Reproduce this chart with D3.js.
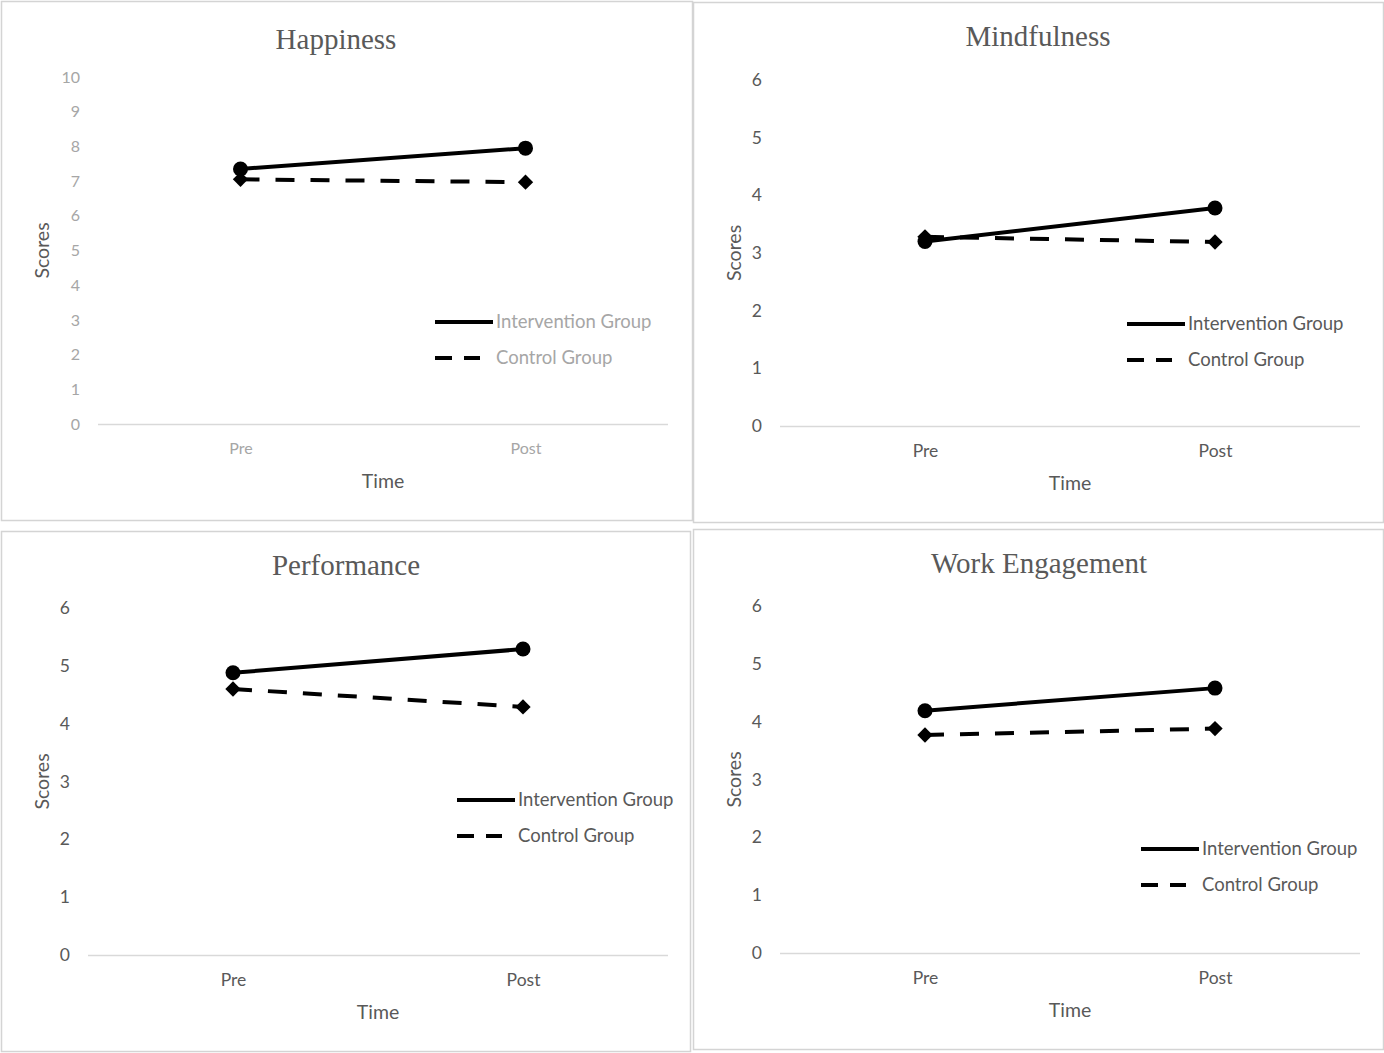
<!DOCTYPE html>
<html lang="en">
<head>
    <meta charset="UTF-8">
    <title>Scores by group</title>
    <style>
        body{
            margin: 0;
            background-color: #fff;
        }
        .title{
            font-family: "Liberation Serif", serif;
            font-size: 29px;
            fill: #595959;
        }
        .tickText, .axisLabel, .legendText{
            font-family: Lato, "Open Sans", sans-serif;
            fill: #595959;
        }
    </style>
</head>
<body>
    <div id="chart"></div>
</body>
<script src="https://d3js.org/d3.v7.min.js"></script>
<script>

// data
let timePoints = ["Pre", "Post"]
let panelTitles = ["Happiness", "Mindfulness", "Performance", "Work Engagement"]
let seriesNames = ["Intervention Group", "Control Group"]
let interventionScores = [[7.35, 7.95], [3.2, 3.78], [4.88, 5.29], [4.19, 4.58]]
let controlScores = [[7.05, 6.97], [3.28, 3.19], [4.6, 4.29], [3.77, 3.88]]
let yMaxValues = [10, 6, 6, 6]

// where each panel sits on the page
let layout = [
    {fx: 1, fy: 1, fw: 691, fh: 519, left: 98, right: 668, top: 77, bottom: 424, titleX: 336, titleY: 49, legY: 322, legX: 435, light: true},
    {fx: 693, fy: 2, fw: 690, fh: 520, left: 780, right: 1360, top: 80, bottom: 426, titleX: 1038, titleY: 46, legY: 324, legX: 1127, light: false},
    {fx: 1, fy: 531, fw: 689, fh: 520, left: 88, right: 668, top: 608, bottom: 955, titleX: 346, titleY: 575, legY: 800, legX: 457, light: false},
    {fx: 693, fy: 529, fw: 690, fh: 520, left: 780, right: 1360, top: 606, bottom: 953, titleX: 1039, titleY: 573, legY: 849, legX: 1141, light: false}
]

let svg = d3.select("#chart")
    .append("svg")
    .attr("width", 1384)
    .attr("height", 1053)

panelTitles.forEach((title, i) => {
    let L = layout[i]
    let g = svg.append("g")
    let textColor = L.light ? "#a6a6a6" : "#595959"
    let tickFont = L.light ? "16px" : "17.5px"

    g.append("rect")
        .attr("x", L.fx + 0.5)
        .attr("y", L.fy + 0.5)
        .attr("width", L.fw)
        .attr("height", L.fh)
        .style("fill", "none")
        .style("stroke", "#d4d4d4")
        .style("stroke-width", 1.5)

    g.append("text")
        .attr("class", "title")
        .attr("x", L.titleX)
        .attr("y", L.titleY)
        .attr("text-anchor", "middle")
        .text(title)

    let xScale = d3.scalePoint()
        .domain(timePoints)
        .range([L.left, L.right])
        .padding(0.5)

    let yScale = d3.scaleLinear()
        .domain([0, yMaxValues[i]])
        .range([L.bottom, L.top])

    // y axis: labels only
    let yAxis = g.append("g")
        .attr("transform", `translate(${L.left},0)`)
        .call(d3.axisLeft(yScale).ticks(yMaxValues[i]).tickSize(0).tickPadding(18))
    yAxis.select(".domain").remove()
    yAxis.selectAll("text")
        .attr("class", "tickText")
        .style("font-size", tickFont)
        .style("fill", textColor)

    // x axis: baseline plus category labels
    let xAxis = g.append("g")
        .attr("transform", `translate(0,${L.bottom})`)
        .call(d3.axisBottom(xScale).tickSize(0).tickPadding(19))
    xAxis.select(".domain")
        .attr("d", `M${L.left},0.5H${L.right}`)
        .style("stroke", "#d9d9d9")
        .style("stroke-width", 1.5)
    xAxis.selectAll("text")
        .attr("class", "tickText")
        .style("font-size", tickFont)
        .style("fill", textColor)

    g.append("text")
        .attr("class", "axisLabel")
        .attr("x", (L.left + L.right) / 2)
        .attr("y", L.bottom + 64)
        .attr("text-anchor", "middle")
        .style("font-size", "19.5px")
        .text("Time")

    g.append("text")
        .attr("class", "axisLabel")
        .attr("transform", `translate(${L.fx + 48},${(L.top + L.bottom) / 2}) rotate(-90)`)
        .attr("text-anchor", "middle")
        .style("font-size", "19.5px")
        .text("Scores")

    let line = d3.line()
        .x((d, j) => xScale(timePoints[j]))
        .y(d => yScale(d))

    // control group: dashed with diamonds
    g.append("path")
        .attr("d", line(controlScores[i]))
        .style("fill", "none")
        .style("stroke", "#000")
        .style("stroke-width", 4)
        .style("stroke-dasharray", "19 16")

    g.selectAll(".diamond")
        .data(controlScores[i])
        .join("path")
        .attr("class", "diamond")
        .attr("d", d3.symbol(d3.symbolDiamond2, 150))
        .attr("transform", (d, j) => `translate(${xScale(timePoints[j])},${yScale(d)})`)
        .style("fill", "#000")

    // intervention group: solid with circles
    g.append("path")
        .attr("d", line(interventionScores[i]))
        .style("fill", "none")
        .style("stroke", "#000")
        .style("stroke-width", 4)

    g.selectAll(".dot")
        .data(interventionScores[i])
        .join("circle")
        .attr("class", "dot")
        .attr("cx", (d, j) => xScale(timePoints[j]))
        .attr("cy", d => yScale(d))
        .attr("r", 7.5)
        .style("fill", "#000")

    // legend
    let legend = g.selectAll(".legend")
        .data(seriesNames)
        .join("g")
        .attr("class", "legend")
        .attr("transform", (d, j) => `translate(${L.legX},${L.legY + j * 36})`)

    legend.append("line")
        .attr("x1", 0)
        .attr("x2", (d, j) => j == 0 ? 58 : 45)
        .attr("y1", 0)
        .attr("y2", 0)
        .style("stroke", "#000")
        .style("stroke-width", 4)
        .style("stroke-dasharray", (d, j) => j == 0 ? null : "17 12")

    legend.append("text")
        .attr("class", "legendText")
        .attr("x", 61)
        .attr("y", 6)
        .style("font-size", "18.5px")
        .style("fill", textColor)
        .text(d => d)
})

</script>
</html>
